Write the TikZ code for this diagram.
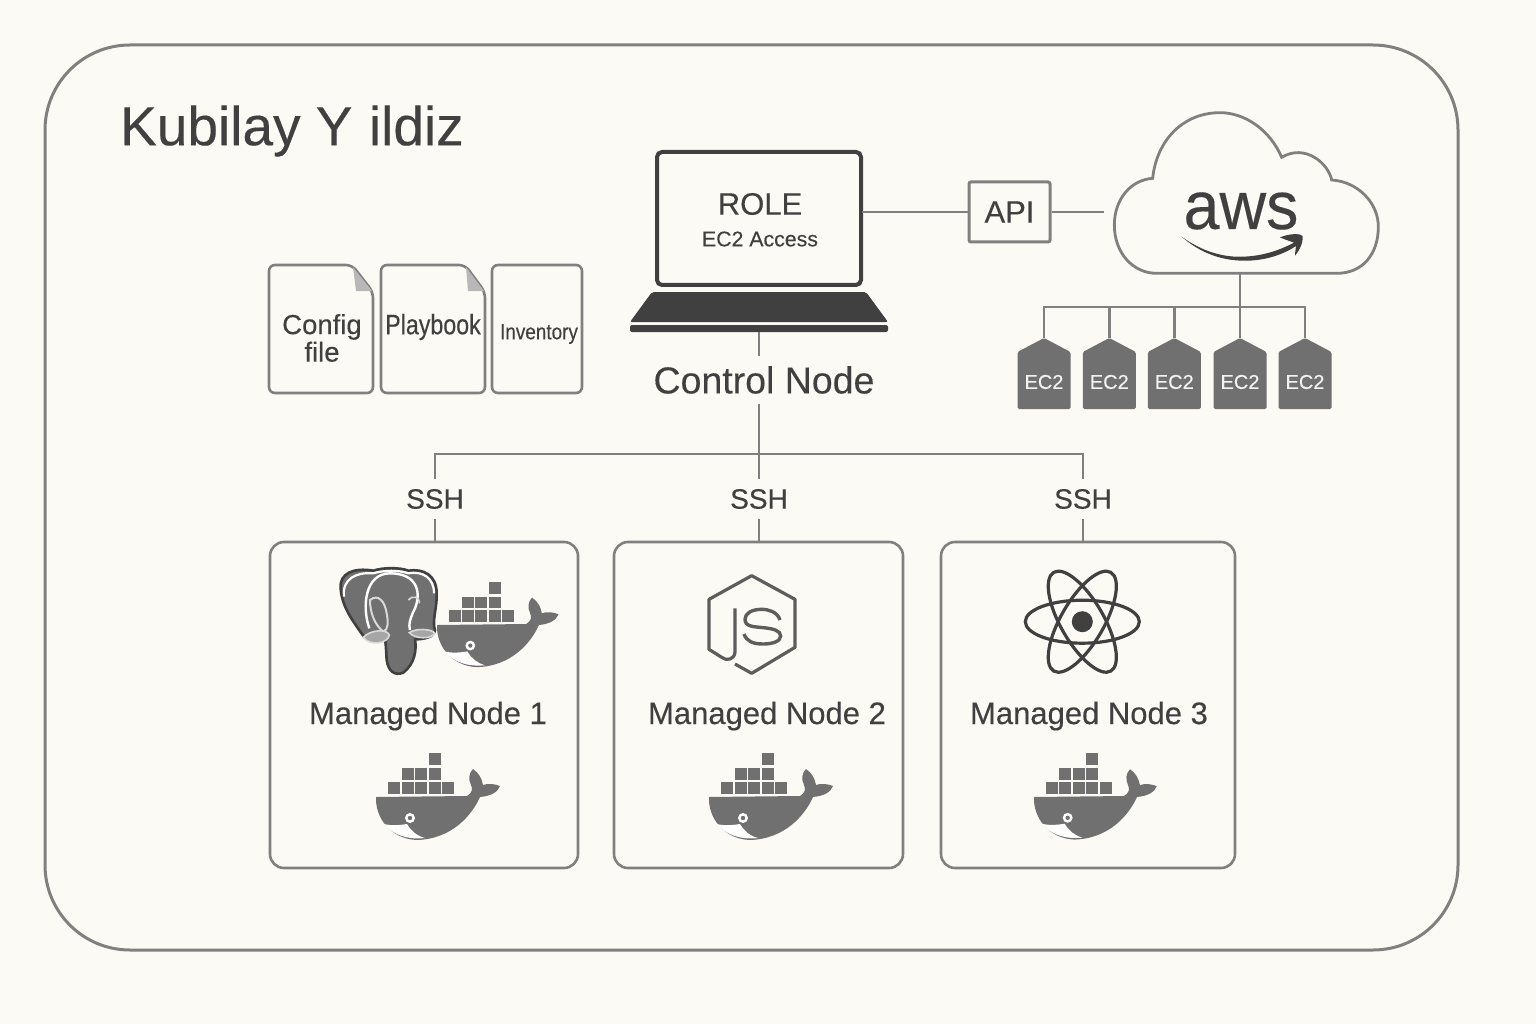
\documentclass[tikz,border=0pt]{standalone}
\usepackage{fontspec}
\setmainfont[FakeBold=0.25]{Liberation Sans}
\definecolor{paper}{HTML}{FCFAF5}
\definecolor{wire}{HTML}{808080}
\definecolor{ink}{HTML}{404040}
\definecolor{greyfill}{HTML}{707070}
\tikzset{
  link/.style={draw=wire,line width=2.8pt},
  framebox/.style={draw=wire,line width=2.6pt,rounded corners=14pt},
  filebox/.style={draw=wire,line width=2.6pt,rounded corners=6pt},
  label/.style={text=ink,inner sep=0pt,font=\fontsize{31}{36}\selectfont},
  sshlabel/.style={text=ink,inner sep=0pt,minimum height=40pt,font=\fontsize{28}{32}\selectfont},
  ectext/.style={text=white!95!black,inner sep=0pt,font=\fontsize{20}{24}\selectfont},
  whale/.pic={
    \foreach \i in {0,...,4} \fill[greyfill] (12+13.6*\i,-15) rectangle +(12,12);
    \foreach \i in {1,2,3} \fill[greyfill] (12+13.6*\i,-29) rectangle +(12,12);
    \fill[greyfill] (52.8,-44) rectangle +(12,12);
    \fill[greyfill] (0,0) -- (91,-1) .. controls (96,-4) and (97,-8) .. (95,-12)
      .. controls (92,-18) and (93,-24) .. (97,-28) .. controls (103,-24) and (106,-18) .. (107,-12)
      .. controls (112,-14) and (119,-13) .. (124,-11) .. controls (122,-5) and (115,-1) .. (104,0)
      .. controls (96,18) and (76,42) .. (41,43) .. controls (14,42) and (-1,20) .. (0,0) -- cycle;
    \fill[white] (8,27) .. controls (15,29) and (25,28) .. (31,27) .. controls (35,34) and (41,39) .. (49,41)
      .. controls (32,43) and (17,38) .. (8,27) -- cycle;
    \fill[white] (34,21) circle (5pt);
    \fill[greyfill] (34,21) circle (2.2pt);
  }
}
\begin{document}
\begin{tikzpicture}[x=1pt,y=-1pt]
\useasboundingbox[fill=paper] (0,0) rectangle (1536,1024);
\draw[wire,line width=3pt,rounded corners=85pt] (45,45) rectangle (1458,950);
\node[text=ink,inner sep=0pt,anchor=west,font=\fontsize{55}{60}\selectfont] (title) at (120,131) {Kubilay Y\kern.3em ildiz};

% files
\path[filebox] (269,265) -- (352,265) -- (373,292) -- (373,393) -- (269,393) -- cycle;
\fill[black!28] (353,267) -- (372,291) -- (356,291) -- cycle;
\path[filebox] (381,265) -- (465,265) -- (485,292) -- (485,393) -- (381,393) -- cycle;
\fill[black!28] (466,267) -- (484,291) -- (468,291) -- cycle;
\path[filebox] (492,265) rectangle (582,393);
\node[text=ink,inner sep=0pt,align=center,font=\fontsize{27.5}{27.5}\selectfont] (config) at (322,338) {Config\\file};
\node[text=ink,inner sep=0pt,font=\fontsize{28}{32}\selectfont,xscale=.83,transform shape] (playbook) at (433,327) {Playbook};
\node[text=ink,inner sep=0pt,font=\fontsize{22}{26}\selectfont,xscale=.86,transform shape] (inventory) at (539,334) {Inventory};

% laptop
\node[draw=ink,line width=4pt,rounded corners=5pt,minimum width=204pt,minimum height=133pt] (screen) at (759,218.5) {};
\fill[ink,rounded corners=2pt] (652,292) -- (866,292) -- (888,322) -- (630,322) -- cycle;
\fill[ink,rounded corners=2pt] (630,325) rectangle (888,332);
\node[label] (role) at (760,204) {ROLE};
\node[text=ink,inner sep=0pt,font=\fontsize{21.3}{25}\selectfont] (access) at (760,239) {EC2 Access};
\coordinate (base) at (759,332);
\node[text=ink,inner sep=0pt,minimum height=48pt,font=\fontsize{37.5}{42}\selectfont] (ctrl) at (764,380) {Control Node};

% api and cloud
\node[draw=wire,line width=3pt,rounded corners=2pt,minimum width=81pt,minimum height=60pt,label,draw=wire] (api) at (1009.5,212) {API};
\coordinate (cloudend) at (1104,212);
\coordinate (cloudbot) at (1240,273);
\draw[wire,line width=2.8pt,shift={(1000,100)},scale=1/3] (470,520) -- (1010,520)
  .. controls (1090,520) and (1135,460) .. (1135,380) .. controls (1135,310) and (1075,245) .. (995,240)
  .. controls (985,190) and (915,130) .. (845,172) .. controls (810,90) and (735,38) .. (660,38)
  .. controls (550,38) and (470,120) .. (458,235) .. controls (390,240) and (343,300) .. (343,375)
  .. controls (343,460) and (400,520) .. (470,520) -- cycle;
\node[text=ink,inner sep=0pt,font=\fontsize{68}{76}\selectfont,xscale=.95,transform shape] (aws) at (1241,211) {aws};
\begin{scope}[shift={(1000,100)},scale=1/3]
\fill[ink] (545,410) .. controls (620,465) and (690,472) .. (730,470) .. controls (790,468) and (840,450) .. (882,428)
  .. controls (860,420) and (845,415) .. (840,412) .. controls (870,400) and (900,400) .. (908,408)
  .. controls (910,425) and (900,450) .. (885,467) .. controls (885,455) and (888,445) .. (888,438)
  .. controls (840,470) and (780,484) .. (725,482) .. controls (650,480) and (590,450) .. (545,410) -- cycle;
\end{scope}

% ec2 instances
\coordinate (ecbus) at (1240,307);
\foreach \i/\x in {1/1044,2/1109.3,3/1174.3,4/1240,5/1305} {
  \fill[greyfill,rounded corners=1.5pt] (\x-26.5,409) -- (\x-26.5,352) -- (\x,338) -- (\x+26.5,352) -- (\x+26.5,409) -- cycle;
  \coordinate (top\i) at (\x,338);
  \node[ectext] (ec\i) at (\x,382) {EC2};
}

% managed nodes
\node[framebox,minimum width=308pt,minimum height=326pt] (nodea) at (424,705) {};
\node[framebox,minimum width=289pt,minimum height=326pt] (nodeb) at (758.5,705) {};
\node[framebox,minimum width=294pt,minimum height=326pt] (nodec) at (1088,705) {};
\node[label] (labela) at (428,716) {Managed Node 1};
\node[label] (labelb) at (767,716) {Managed Node 2};
\node[label] (labelc) at (1089,716) {Managed Node 3};
\node[sshlabel] (ssha) at (435,499) {SSH};
\node[sshlabel] (sshb) at (759,499) {SSH};
\node[sshlabel] (sshc) at (1083,499) {SSH};
\coordinate (busmid) at (759,454);

% connectors
\draw[link] (screen) ++(103,-6.5) -- (api.west);
\draw[link] (api.east) -- (cloudend);
\draw[link] (base) -- (base|-ctrl.north);
\draw[link] (busmid|-ctrl.south) -- (sshb.north);
\draw[link] (ssha.north) |- (busmid) -| (sshc.north);
\draw[link] (ssha.south) -- (ssha.south|-nodea.north);
\draw[link] (sshb.south) -- (sshb.south|-nodeb.north);
\draw[link] (sshc.south) -- (sshc.south|-nodec.north);
\draw[link] (cloudbot) -- (top4);
\draw[link] (top1) |- (ecbus) -| (top5);
\foreach \i in {2,3} \draw[link] (top\i) -- (top\i|-ecbus);

% icons
\pic[scale=.98] at (437,625) {whale};
\pic at (376,797) {whale};
\pic at (709,797) {whale};
\pic[scale=.99] at (1034,797) {whale};

\begin{scope}[shift={(320,550)},scale=1/3]
\filldraw[fill=greyfill,draw=ink,line width=2.6pt,line join=round] (62,115) .. controls (58,70) and (100,52) .. (160,62)
  .. controls (190,52) and (240,52) .. (265,62) .. controls (310,55) and (350,75) .. (350,130)
  .. controls (352,170) and (335,215) .. (345,240) .. controls (345,262) and (310,268) .. (285,268)
  .. controls (290,300) and (285,340) .. (250,368) .. controls (225,378) and (205,365) .. (200,330)
  .. controls (198,300) and (198,275) .. (192,255) .. controls (175,268) and (140,270) .. (128,255)
  .. controls (100,215) and (65,170) .. (62,115) -- cycle;
\draw[white,line width=2.4pt] (148,235) .. controls (125,170) and (135,70) .. (210,70)
  .. controls (290,70) and (305,125) .. (285,175) .. controls (270,205) and (265,225) .. (270,240);
\draw[white,line width=2.2pt] (72,140) .. controls (66,85) and (110,66) .. (160,70) .. controls (190,60) and (240,60) .. (265,70)
  .. controls (310,62) and (342,85) .. (342,130);
\draw[white!85!black,line width=2pt] (150,150) .. controls (175,130) and (195,155) .. (200,190)
  .. controls (205,215) and (205,240) .. (190,245) .. controls (165,225) and (150,190) .. (150,150) -- cycle;
\draw[white!85!black,line width=1.6pt] (265,150) .. controls (275,135) and (300,140) .. (298,160);
\filldraw[fill=black!35,draw=white!85!black,line width=1.6pt] (130,262) .. controls (150,240) and (200,235) .. (208,255)
  .. controls (205,280) and (150,290) .. (130,262) -- cycle;
\filldraw[fill=black!35,draw=white!85!black,line width=1.6pt] (268,248) .. controls (285,235) and (335,235) .. (345,250)
  .. controls (335,268) and (285,268) .. (268,248) -- cycle;
\end{scope}

\begin{scope}[shift={(690,560)},scale=1/3]
\draw[ink!85,line width=3.2pt,line join=round] (135,145) -- (135,275) .. controls (135,298) and (110,305) .. (95,292)
  -- (57,268) -- (57,118) -- (185,47) -- (315,118) -- (315,262) -- (185,340) -- (135,312);
\draw[ink!85,line width=3.4pt] (270,180) .. controls (262,155) and (235,148) .. (215,148) .. controls (185,148) and (165,160) .. (165,178)
  .. controls (165,200) and (190,200) .. (220,203) .. controls (250,206) and (272,212) .. (272,228)
  .. controls (272,245) and (245,252) .. (220,252) .. controls (190,252) and (170,245) .. (162,222);
\end{scope}

\foreach \a in {0,60,120} \draw[ink,line width=3.2pt,rotate around={\a:(1082.3,621.7)}] (1082.3,621.7) ellipse (57pt and 21.5pt);
\fill[ink] (1082.3,621.7) circle (10.5pt);
\end{tikzpicture}
\end{document}
